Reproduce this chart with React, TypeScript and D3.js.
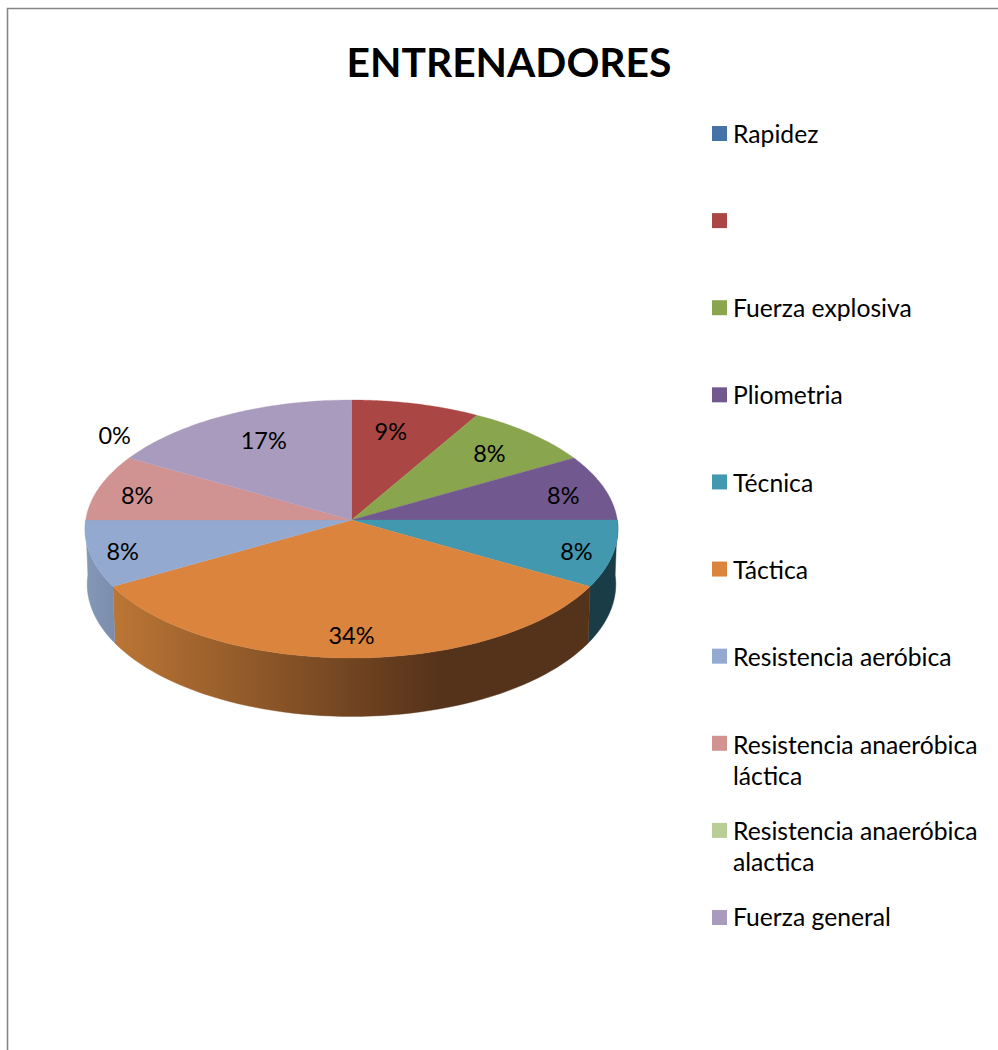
import React from "react";
import * as d3 from "d3";

const title = "ENTRENADORES";
const categories = ["Rapidez", "", "Fuerza explosiva", "Pliometria", "Técnica", "Táctica", "Resistencia aeróbica", "Resistencia anaeróbica láctica", "Resistencia anaeróbica alactica", "Fuerza general"];
const legendLines = [["Rapidez"], [""], ["Fuerza explosiva"], ["Pliometria"], ["Técnica"], ["Táctica"], ["Resistencia aeróbica"], ["Resistencia anaeróbica", "láctica"], ["Resistencia anaeróbica", "alactica"], ["Fuerza general"]];
const counts = [0, 1, 1, 1, 1, 4, 1, 1, 0, 2];
const percentLabels = ["", "9%", "8%", "8%", "8%", "34%", "8%", "8%", "0%", "17%"];
const colors = ["#4572A7", "#AA4643", "#89A54E", "#71588F", "#4198AF", "#DB843D", "#93A9CF", "#D19392", "#B9CD96", "#A99BBD"];
const sideColors = ["#2b4565", "#662a28", "#52632f", "#443556", "#1A3C47", "url(#orangeSide)", "url(#blueSide)", "#7d5857", "#6f7b5a", "#655d71"];
// how far along the radius each percentage sits (x reach, y reach)
const labelReach = [[0, 0], [0.61, 0.76], [0.77, 0.77], [0.84, 0.73], [0.86, 0.95], [0, 0.84], [0.875, 0.95], [0.85, 0.73], [1.065, 1.35], [0.7, 0.76]];
// vertical nudge of each legend entry's text, against its swatch
const legendNudge = [1, 0, 1, 1, 1, 1, 1, 2, 0.5, 0];

const W = 998, H = 1050;
const cx = 351.5, cy = 520, rx = 265.8, ryScale = 128.4, persp = 0.0698;
const baseCy = 575, baseXs = 0.992, baseYs = 1.025;

const rim = (a: number): [number, number] => {
  const u = Math.sin(a), v = -Math.cos(a), d = 1 - persp * v;
  return [cx + (rx * u) / d, cy + (ryScale * v) / d];
};
const baseRim = (a: number): [number, number] => {
  const u = Math.sin(a), v = -Math.cos(a), d = 1 - persp * v;
  return [cx + (baseXs * rx * u) / d, baseCy + (baseYs * ryScale * v) / d];
};
const sweep = (a0: number, a1: number) => d3.range(0, 61).map((i) => a0 + ((a1 - a0) * i) / 60);
const line = d3.line<[number, number]>().curve(d3.curveLinear);

const arcs = d3.pie<number>().sort(null).startAngle(0).endAngle(2 * Math.PI)(counts);
const legendY = d3.scaleLinear().domain([0, 9]).range([133.5, 917.5]);
const halfPi = Math.PI / 2;

export default function App() {
  return (
    <svg width={W} height={H} viewBox={`0 0 ${W} ${H}`} style={{ position: "absolute", left: 0, top: 0, display: "block", background: "#fff" }}>
      <defs>
        <linearGradient id="orangeSide" gradientUnits="userSpaceOnUse" x1={112} x2={440} y1={0} y2={0}>
          <stop offset="0" stopColor="#BC7635" />
          <stop offset="1" stopColor="#55321A" />
        </linearGradient>
        <linearGradient id="blueSide" gradientUnits="userSpaceOnUse" x1={85} x2={112} y1={0} y2={0}>
          <stop offset="0" stopColor="#8598B7" />
          <stop offset="1" stopColor="#7B8EAD" />
        </linearGradient>
      </defs>
      <path d={`M7.5,1050V8.5H998`} fill="none" stroke="#868686" strokeWidth={1.6} />
      <text x={509} y={77} textAnchor="middle" fontFamily="Lato, sans-serif" fontWeight={700} fontSize={40.8} fill="#000">{title}</text>

      {arcs.map((s, i) => {
        const a0 = Math.max(s.startAngle, halfPi), a1 = Math.min(s.endAngle, 3 * halfPi);
        if (a1 <= a0) return null;
        const pts = [...sweep(a0, a1).map(rim), ...sweep(a0, a1).reverse().map(baseRim)];
        return <path key={i} d={line(pts) + "Z"} fill={sideColors[i]} stroke={sideColors[i]} strokeWidth={0.4} />;
      })}
      {arcs.map((s, i) => {
        if (s.endAngle <= s.startAngle) return null;
        const pts: [number, number][] = [[cx, cy], ...sweep(s.startAngle, s.endAngle).map(rim)];
        return <path key={i} d={line(pts) + "Z"} fill={colors[i]} stroke={colors[i]} strokeWidth={0.3} />;
      })}
      {arcs.map((s, i) => {
        if (!percentLabels[i]) return null;
        const [px, py] = rim((s.startAngle + s.endAngle) / 2);
        return (
          <text key={i} x={cx + (px - cx) * labelReach[i][0]} y={cy + (py - cy) * labelReach[i][1]} dy="0.35em" textAnchor="middle" fontFamily="Lato, sans-serif" fontSize={23.5} fill="#000">
            {percentLabels[i]}
          </text>
        );
      })}
      {categories.map((c, i) => (
        <g key={c + i}>
          <rect x={712} y={legendY(i) - 7.5} width={15} height={15} fill={colors[i]} />
          {legendLines[i].map((t, j) => (
            <text key={j} x={733} y={legendY(i) + j * 31 + legendNudge[i]} dy="0.35em" fontFamily="Lato, sans-serif" fontSize={24.7} fill="#000">
              {t}
            </text>
          ))}
        </g>
      ))}
    </svg>
  );
}
